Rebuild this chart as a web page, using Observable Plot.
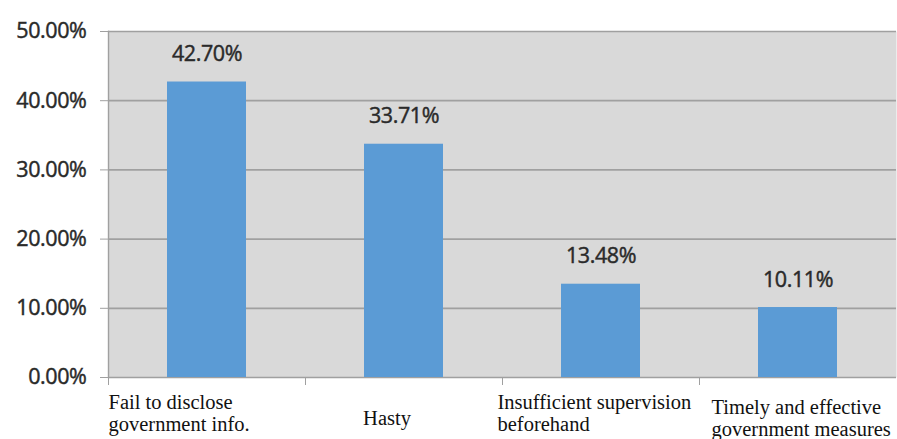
<!DOCTYPE html>
<html>
<head>
<meta charset="utf-8">
<script src="https://cdn.jsdelivr.net/npm/d3@7"></script>
<script src="https://cdn.jsdelivr.net/npm/@observablehq/plot@0.6"></script>
<style>
  html, body { margin: 0; padding: 0; background: #ffffff; }
  .num text { letter-spacing: -0.4px; stroke: #2a2a2a; stroke-width: 0.45px; }
</style>
</head>
<body>
<div id="chart"></div>
<script>
// Public attitudes toward the government's handling of the incident
const categories = [
  "Fail to disclose government info.",
  "Hasty",
  "Insufficient supervision beforehand",
  "Timely and effective government measures"
];
const categoryLabels = [
  "Fail to disclose\ngovernment info.",
  "Hasty",
  "Insufficient supervision\nbeforehand",
  "Timely and effective\ngovernment measures"
];
const shares = [0.4270, 0.3371, 0.1348, 0.1011];
const yTicks = [0, 0.1, 0.2, 0.3, 0.4, 0.5];

const data = categories.map((c, i) => ({category: c, label: categoryLabels[i], share: shares[i]}));

// Chart geometry
const width = 897, height = 439;
const marginLeft = 108, marginRight = 1, marginTop = 31, marginBottom = 62;
const step = (width - marginLeft - marginRight) / categories.length;

// Per-label placement of the category captions under the axis
const captionLayout = [
  {anchor: "start",  dx: -step / 2,      dy: 15},
  {anchor: "middle", dx: -17,            dy: 31},
  {anchor: "start",  dx: -step / 2 - 5,  dy: 15},
  {anchor: "start",  dx: -step / 2 + 12, dy: 20}
];

const pct = d3.format(".2%");
const sansFont = "'Open Sans', 'Noto Sans', sans-serif";
const serifFont = "'Liberation Serif', 'DejaVu Serif', serif";
const ink = "#2a2a2a";
const lineGray = "#a0a0a0";

const captionMarks = data.map((d, i) => Plot.text([d], {
  x: "category",
  y: () => 0,
  text: "label",
  textAnchor: captionLayout[i].anchor,
  lineAnchor: "top",
  dx: captionLayout[i].dx,
  dy: captionLayout[i].dy,
  lineHeight: 1.1,
  fontFamily: serifFont,
  fontSize: 20.5,
  fill: "#111111"
}));

const chart = Plot.plot({
  width, height, marginLeft, marginRight, marginTop, marginBottom,
  style: {fontFamily: sansFont, fontSize: "21px", color: ink, background: "#ffffff"},
  x: {domain: categories, paddingInner: 0.6, paddingOuter: 0.3, axis: null, label: null},
  y: {domain: [0, 0.5], axis: null, label: null},
  marks: [
    Plot.frame({fill: "#d9d9d9", stroke: null}),
    Plot.gridY(yTicks, {stroke: lineGray, strokeOpacity: 1, strokeWidth: 1.7}),
    Plot.frame({anchor: "left", stroke: lineGray, strokeWidth: 1.4}),
    Plot.axisY({
      ticks: yTicks, tickFormat: pct, tickSize: 8, tickPadding: 14, label: null,
      stroke: lineGray, strokeOpacity: 1, fontSize: 21.5, fill: ink,
      fontFamily: sansFont, className: "num"
    }),
    Plot.axisX({
      tickSize: 8, dx: -step / 2, tickFormat: () => "", label: null,
      stroke: lineGray, strokeOpacity: 1
    }),
    Plot.barY(data, {x: "category", y: "share", fill: "#5b9bd5"}),
    Plot.text(data, {
      x: "category", y: "share", text: d => pct(d.share),
      lineAnchor: "bottom", dy: -21, fontSize: 21.5, fill: ink,
      fontFamily: sansFont, className: "num"
    }),
    ...captionMarks
  ]
});

document.getElementById("chart").appendChild(chart);
</script>
</body>
</html>
